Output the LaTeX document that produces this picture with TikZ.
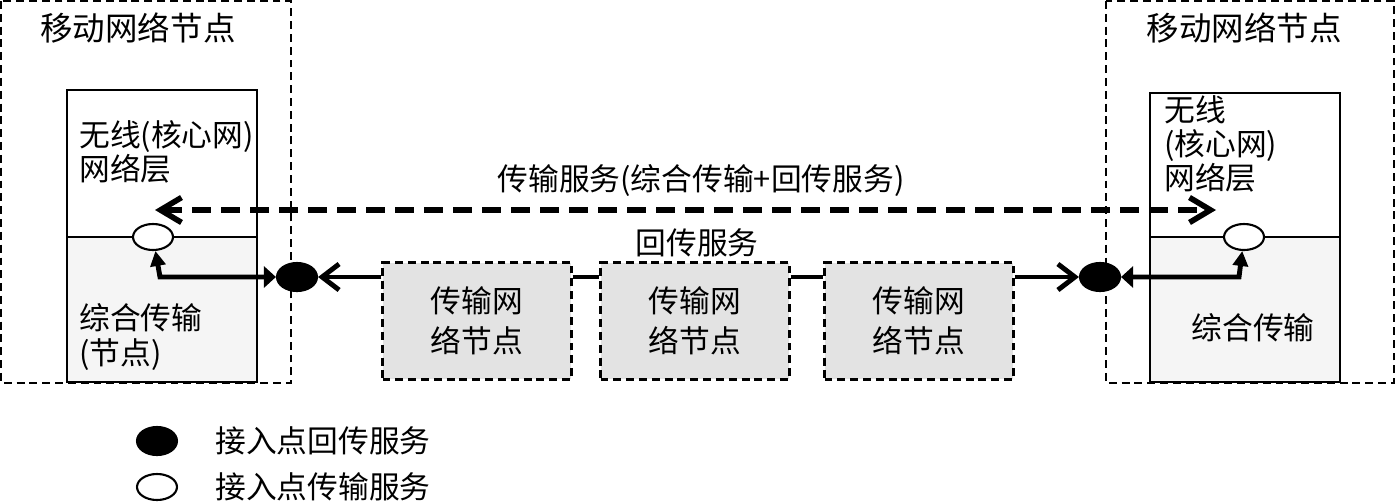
\documentclass[tikz,border=0pt]{standalone}
\usepackage{fontspec}
\newfontfamily\cjk{Noto Sans CJK SC}
\usetikzlibrary{arrows.meta,shapes.geometric}

\tikzset{
  txt/.style={font=\cjk\fontsize{17.5pt}{19.5pt}\selectfont, inner sep=0pt},
  outerbox/.style={line width=1.3pt, dash pattern=on 4.5pt off 2.8pt},
  layerbox/.style={line width=1.2pt},
  relaybox/.style={draw, fill=gray!22, line width=1.3pt, dash pattern=on 4.5pt off 2.8pt,
    minimum width=3.78cm, minimum height=2.34cm, align=center,
    font=\cjk\fontsize{17.5pt}{22.5pt}\selectfont},
  apopen/.style={ellipse, draw, fill=white, line width=1.2pt, minimum width=0.8cm, minimum height=0.52cm, inner sep=0pt},
  apfull/.style={ellipse, draw, fill=black, line width=1.2pt, minimum width=0.8cm, minimum height=0.56cm, inner sep=0pt},
  thickline/.style={line width=2.8pt},
}

\begin{document}
\begin{tikzpicture}[x=0.02cm, y=-0.02cm]
  \useasboundingbox (0,0) rectangle (1396,501);
  % Mobile network nodes (outer dashed frames)
  \draw[outerbox] (1,1) rectangle (291,383);
  \draw[outerbox] (1106,1) rectangle (1394,383);
  \node[txt, font=\cjk\fontsize{18.5pt}{20pt}\selectfont] (ltitle) at (138,28) {移动网络节点};
  \node[txt, font=\cjk\fontsize{18.5pt}{20pt}\selectfont] (rtitle) at (1244,28) {移动网络节点};
  % Layer stacks: upper network layer, lower integrated transport
  \foreach \xa/\xb/\ya in {67/257/90, 1150/1340/93}{
    \fill[gray!8] (\xa,237) rectangle (\xb,382);
    \draw[layerbox] (\xa,\ya) rectangle (\xb,382);
    \draw[layerbox] (\xa,237) -- (\xb,237);
  }
  \node[txt, anchor=west, align=left] (lnet) at (79,152) {无线(核心网)\\网络层};
  \node[txt, anchor=west, align=left] (ltrans) at (79,337) {综合传输\\(节点)};
  \node[txt, anchor=west, align=left] (rnet) at (1164,144) {无线\\(核心网)\\网络层};
  \node[txt] (rtrans) at (1253,328) {综合传输};
  % Transport network nodes
  \node[relaybox] (relay1) at (477,321) {传输网\\络节点};
  \node[relaybox] (relay2) at (695,321) {传输网\\络节点};
  \node[relaybox] (relay3) at (919,321) {传输网\\络节点};
  % Access points
  \node[apopen] (lopen) at (153,237) {};
  \node[apopen] (ropen) at (1244,237) {};
  \node[apfull] (lfull) at (297,277) {};
  \node[apfull] (rfull) at (1100,277) {};
  \coordinate (lbend) at (160,277);
  \coordinate (rbend) at (1239,277);
  \coordinate (lsvc) at (155,210);
  \coordinate (rsvc) at (1216,210);
  % Transport service (dashed, both ways)
  \draw[thickline, line width=3.2pt, dash pattern=on 0.38cm off 0.2cm,
    {Straight Barb[length=0.42cm,width=0.5cm]}-{Straight Barb[length=0.42cm,width=0.5cm]}]
    (lsvc) -- (rsvc);
  \node[txt] (svclbl) at (701,181) {传输服务(综合传输+回传服务)};
  \node[txt] (bhlbl) at (697,243) {回传服务};
  % Backhaul chain
  \draw[thickline, -{Straight Barb[length=0.34cm,width=0.52cm]}] (relay1.west |- lfull) -- (lfull);
  \draw[thickline] (relay1.east |- lfull) -- (relay2.west |- lfull);
  \draw[thickline] (relay2.east |- lfull) -- (relay3.west |- lfull);
  \draw[thickline, -{Straight Barb[length=0.34cm,width=0.52cm]}] (relay3.east |- rfull) -- (rfull);
  % Access point to layer stack
  \draw[thickline, {Triangle[length=0.24cm,width=0.42cm]}-{Triangle[length=0.3cm,width=0.3cm]}]
    (lfull) -- (lbend) -- (lopen);
  \draw[thickline, {Triangle[length=0.24cm,width=0.42cm]}-{Triangle[length=0.3cm,width=0.3cm]}]
    (rfull) -- (rbend) -- (ropen);
  % Legend
  \node[apfull] (keyfull) at (157,441) {};
  \node[apopen] (keyopen) at (157,487) {};
  \node[txt, anchor=west] (keyfulltxt) at (215,441) {接入点回传服务};
  \node[txt, anchor=west] (keyopentxt) at (215,487) {接入点传输服务};
\end{tikzpicture}
\end{document}
